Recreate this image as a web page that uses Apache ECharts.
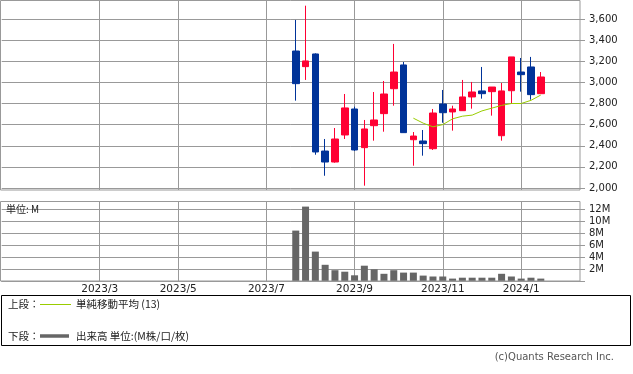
<!DOCTYPE html>
<html><head><meta charset="utf-8">
<script src="https://cdn.jsdelivr.net/npm/echarts@6/dist/echarts.min.js"></script>
<style>html,body{margin:0;padding:0;background:#fff;}#c{width:633px;height:374px;}</style>
</head><body><div id="c"></div>
<script>
// weekly categories (week start dates)
const weeks = [
 '2022/12/26','2023/1/2','2023/1/9','2023/1/16','2023/1/23','2023/1/30','2023/2/6','2023/2/13','2023/2/20','2023/2/27',
 '2023/3/6','2023/3/13','2023/3/20','2023/3/27','2023/4/3','2023/4/10','2023/4/17','2023/4/24','2023/5/1','2023/5/8',
 '2023/5/15','2023/5/22','2023/5/29','2023/6/5','2023/6/12','2023/6/19','2023/6/26','2023/7/3','2023/7/10','2023/7/17',
 '2023/7/24','2023/7/31','2023/8/7','2023/8/14','2023/8/21','2023/8/28','2023/9/4','2023/9/11','2023/9/18','2023/9/25',
 '2023/10/2','2023/10/9','2023/10/16','2023/10/23','2023/10/30','2023/11/6','2023/11/13','2023/11/20','2023/11/27','2023/12/4',
 '2023/12/11','2023/12/18','2023/12/25','2024/1/1','2024/1/8','2024/1/15','2024/1/22','2024/1/29','2024/2/5','2024/2/12'
];
const tickWeeks = ['2023/3/6','2023/5/1','2023/7/3','2023/9/4','2023/11/6','2024/1/1'];
const tickLabels = ['2023/3','2023/5','2023/7','2023/9','2023/11','2024/1'];

const firstWeek = '2023/7/24';
const opens  = [3297,3149,3269,2350,2246,2502,2748,2382,2590,2704,2940,3165,2457,2445,2372,2795,2720,2732,2862,2919,2912,2495,2921,3098,3146,2893];
const closes = [2988,3203,2341,2246,2464,2758,2360,2559,2644,2890,3098,2524,2492,2420,2710,2713,2748,2862,2909,2893,2956,2919,3241,3073,2884,3051];
const lows   = [2827,3023,2315,2116,2240,2464,2350,2022,2448,2533,2779,2524,2211,2306,2360,2618,2543,2732,2751,2846,2685,2448,2798,2912,2836,2893];
const highs  = [3591,3726,3275,2464,2568,2890,2770,2644,2909,3013,3364,3193,2530,2549,2748,2928,2779,3023,3004,3146,2956,2994,3241,3231,3241,3098];
const volumes = [8.4,12.4,4.9,2.7,1.8,1.55,0.95,2.55,1.95,1.2,1.8,1.4,1.4,0.9,0.75,0.75,0.4,0.55,0.55,0.55,0.55,1.2,0.75,0.4,0.55,0.4];

const smaFirstWeek = '2023/10/16';
const sma13 = [2661,2614,2579,2600,2655,2680,2690,2730,2756,2782,2800,2800,2830,2880];

const RED = '#ff0033', BLUE = '#003399', GRID = '#999999';

const s0 = weeks.indexOf(firstWeek);
const s1 = weeks.indexOf(smaFirstWeek);
const candleData = weeks.map((w,i)=>{const j=i-s0; return (j>=0&&j<opens.length)?[opens[j],closes[j],lows[j],highs[j]]:['-','-','-','-'];});
const volData = weeks.map((w,i)=>{const j=i-s0; return (j>=0&&j<volumes.length)?volumes[j]:'-';});
const smaData = weeks.map((w,i)=>{const j=i-s1; return (j>=0&&j<sma13.length)?sma13[j]:'-';});
const isTick = (idx)=> tickWeeks.indexOf(weeks[idx])>=0;

const chart = echarts.init(document.getElementById('c'));
const L = 1.7, W = 578.3;
const JP = '"Noto Sans CJK JP"';
chart.setOption({
  animation:false,
  grid:[
    {left:L, width:W, top:19, height:169},
    {left:L, width:W, top:0.5, height:189.5},
    {left:L, width:W, top:201.5, height:79.5}
  ],
  xAxis:[
    {type:'category', gridIndex:0, data:weeks, boundaryGap:false, show:false},
    {type:'category', gridIndex:1, data:weeks, boundaryGap:false,
     axisLine:{show:false}, axisTick:{show:false}, axisLabel:{show:false},
     splitLine:{show:true, interval:(i)=>isTick(i), lineStyle:{color:GRID,width:1}}},
    {type:'category', gridIndex:2, data:weeks, boundaryGap:false,
     axisLine:{show:true, lineStyle:{color:GRID}}, axisTick:{show:false},
     axisLabel:{interval:(i)=>isTick(i), margin:3, fontSize:10.5, fontFamily:'DejaVu Sans', color:'#222',
       formatter:(v)=>{const k=tickWeeks.indexOf(v); return k>=0?tickLabels[k]:'';}},
     splitLine:{show:true, interval:(i)=>isTick(i), lineStyle:{color:GRID,width:1}}}
  ],
  yAxis:[
    {type:'value', gridIndex:0, position:'right', min:2000, max:3600, interval:200,
     axisLine:{show:false}, axisTick:{show:true, length:5, lineStyle:{color:GRID}},
     axisLabel:{margin:9, fontSize:10, fontFamily:'DejaVu Sans', color:'#222',
       formatter:(v)=>v.toLocaleString('en-US')},
     splitLine:{show:true, lineStyle:{color:GRID,width:1}}},
    {type:'value', gridIndex:1, show:false, min:0, max:1},
    {type:'value', gridIndex:2, position:'right', min:0, max:13.25, interval:2,
     axisLine:{show:false}, axisTick:{show:true, length:5, lineStyle:{color:GRID}},
     axisLabel:{margin:9, fontSize:10, fontFamily:'DejaVu Sans', color:'#222', showMaxLabel:false,
       formatter:(v)=> (v===0||v>12.5)?'':v+'M'},
     splitLine:{show:true, lineStyle:{color:GRID,width:1}}}
  ],
  series:[
    {type:'candlestick', xAxisIndex:0, yAxisIndex:0, data:candleData, barWidth:7, clip:false,
     itemStyle:{color:RED, color0:BLUE, borderColor:RED, borderColor0:BLUE, borderWidth:1}},
    {type:'line', xAxisIndex:0, yAxisIndex:0, data:smaData, symbol:'none',
     lineStyle:{color:'#99cc00', width:1}, z:3},
    {type:'bar', xAxisIndex:2, yAxisIndex:2, data:volData, barWidth:7,
     itemStyle:{color:'#666666'}}
  ],
  graphic:[
    {type:'rect', shape:{x:0.5,y:0.5,width:579.5,height:189.5}, style:{fill:null, stroke:GRID, lineWidth:1}, z:10, silent:true},
    {type:'rect', shape:{x:0.5,y:201.5,width:579.5,height:79.5}, style:{fill:null, stroke:GRID, lineWidth:1}, z:10, silent:true},
    {type:'text', x:6, y:209.5, style:{text:'単位: M', font:'10px '+JP, fill:'#222', verticalAlign:'middle'}, z:11},
    {type:'rect', shape:{x:1.5,y:295.5,width:629,height:50}, style:{fill:null, stroke:'#000', lineWidth:1}, z:10},
    {type:'text', x:8, y:304.5, style:{text:'上段：', font:'10.5px '+JP, fill:'#222', verticalAlign:'middle'}},
    {type:'line', shape:{x1:40,y1:304.5,x2:71,y2:304.5}, style:{stroke:'#99cc00', lineWidth:1}},
    {type:'text', x:76, y:304.5, style:{text:'単純移動平均 (13)', font:'10.5px '+JP, fill:'#222', verticalAlign:'middle'}},
    {type:'text', x:8, y:336, style:{text:'下段：', font:'10.5px '+JP, fill:'#222', verticalAlign:'middle'}},
    {type:'line', shape:{x1:40,y1:336,x2:69,y2:336}, style:{stroke:'#666666', lineWidth:3.5}},
    {type:'text', x:76, y:336, style:{text:'出来高 単位:(M株/口/枚)', font:'10.5px '+JP, fill:'#222', verticalAlign:'middle'}},
    {type:'text', x:614, y:357, style:{text:'(c)Quants Research Inc.', font:'10px "DejaVu Sans"', fill:'#555', align:'right', verticalAlign:'middle'}}
  ]
});
</script></body></html>
